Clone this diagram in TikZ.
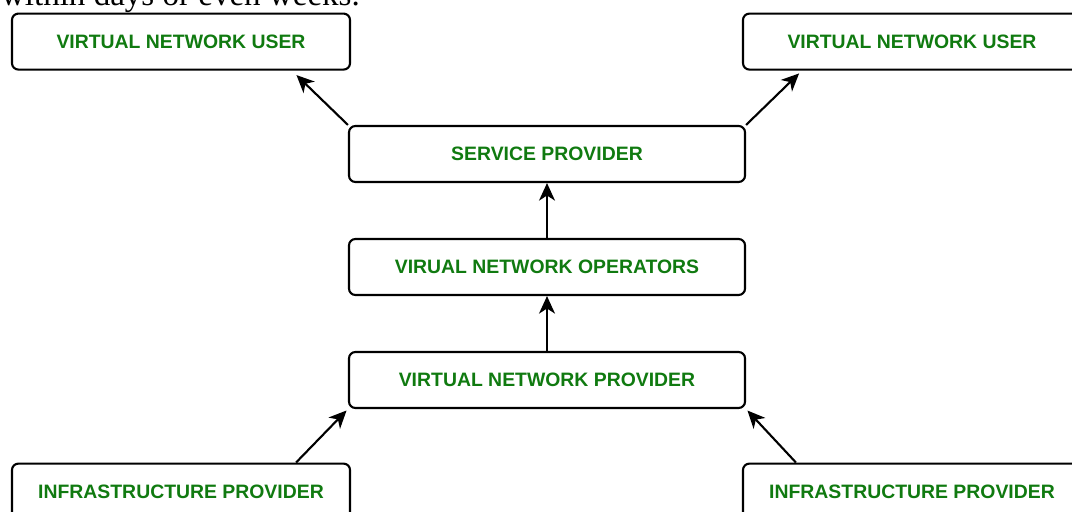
\documentclass[tikz,border=0pt]{standalone}
\usepackage{fontspec}
\setmainfont{Liberation Sans}
\newfontfamily\serifpart{Liberation Serif}
\usetikzlibrary{arrows.meta}
\definecolor{labelgreen}{RGB}{16,122,16}

\begin{document}
\begin{tikzpicture}[node distance={28.25mm}, line width=1.5pt,
    main/.style = {draw, rectangle, rounded corners=1.6mm, minimum width=99mm, minimum height=14mm,
                   font=\fontsize{13.8}{15}\selectfont\bfseries, text=labelgreen},
    side/.style = {main, minimum width=84.5mm},
    >={Stealth[length=4.4mm, width=4mm, inset=1.3mm]}]
    \useasboundingbox (0,0) rectangle (26.8,-12.8);
    \node[anchor=base west, inner sep=0pt, font=\serifpart\fontsize{23.5}{26}\selectfont] (0) at (0,-0.14) {within days or even weeks.};
    \node[main] (5) at (13.675,-9.5) {VIRTUAL NETWORK PROVIDER};
    \node[main] (4) [above of=5] {VIRUAL NETWORK OPERATORS};
    \node[main] (3) [above of=4] {SERVICE PROVIDER};
    \node[side] (1) at (4.525,-1.04) {VIRTUAL NETWORK USER};
    \node[side] (2) at (22.8,-1.04) {VIRTUAL NETWORK USER};
    \node[side] (6) at (4.525,-12.29) {INFRASTRUCTURE PROVIDER};
    \node[side] (7) at (22.8,-12.29) {INFRASTRUCTURE PROVIDER};
    \draw[->, shorten >=1.6mm] (3.north west) -- ([xshift=-14.8mm]1.south east);
    \draw[->, shorten >=1mm] (3.north east) -- ([xshift=15mm]2.south west);
    \draw[->] (4) -- (3);
    \draw[->] (5) -- (4);
    \draw[->, shorten >=0.5mm] ([xshift=-13.75mm]6.north east) -- (5.south west);
    \draw[->, shorten >=0.5mm] ([xshift=13.5mm]7.north west) -- (5.south east);
\end{tikzpicture}
\end{document}
